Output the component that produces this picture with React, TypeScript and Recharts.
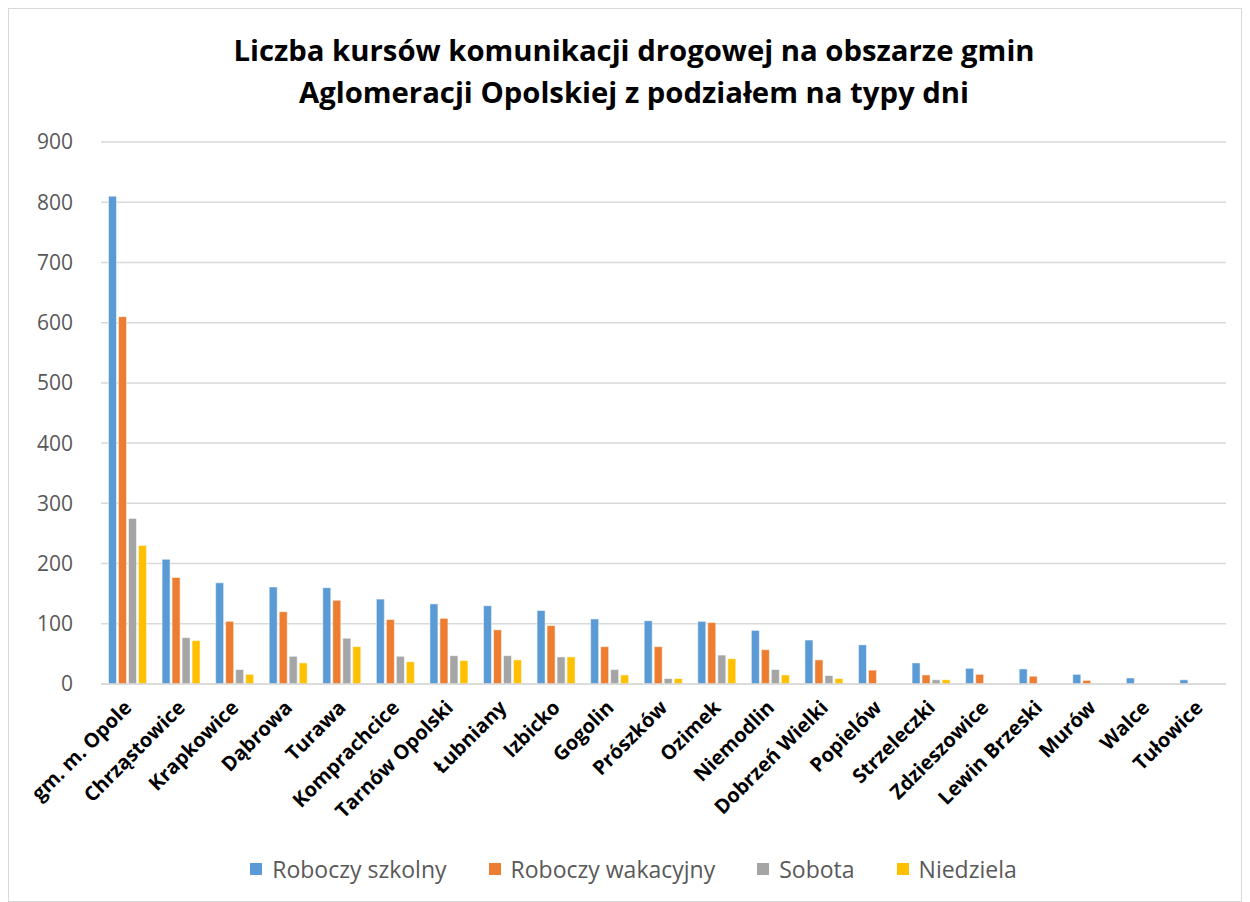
import React from 'react';
import { BarChart, Bar, XAxis, YAxis, CartesianGrid, Legend } from 'recharts';

const gminy = [
  'gm. m. Opole', 'Chrząstowice', 'Krapkowice', 'Dąbrowa', 'Turawa', 'Komprachcice',
  'Tarnów Opolski', 'Łubniany', 'Izbicko', 'Gogolin', 'Prószków', 'Ozimek', 'Niemodlin',
  'Dobrzeń Wielki', 'Popielów', 'Strzeleczki', 'Zdzieszowice', 'Lewin Brzeski', 'Murów',
  'Walce', 'Tułowice',
];
const roboczySzkolny = [810, 207, 168, 161, 160, 141, 133, 130, 122, 108, 105, 104, 89, 73, 65, 35, 26, 25, 16, 10, 7];
const roboczyWakacyjny = [610, 177, 104, 120, 139, 107, 109, 90, 97, 62, 62, 102, 57, 40, 23, 15, 16, 13, 6, 0, 0];
const sobota = [275, 77, 24, 46, 76, 46, 47, 47, 45, 24, 9, 48, 24, 14, 1, 7, 0, 0, 1, 0, 0];
const niedziela = [230, 72, 16, 35, 62, 37, 39, 40, 45, 15, 9, 42, 15, 9, 0, 7, 0, 0, 0, 0, 0];
const yTicks = [0, 100, 200, 300, 400, 500, 600, 700, 800, 900];

const series = [
  { key: 'szk', name: 'Roboczy szkolny', color: '#5B9BD5' },
  { key: 'wak', name: 'Roboczy wakacyjny', color: '#ED7D31' },
  { key: 'sob', name: 'Sobota', color: '#A5A5A5' },
  { key: 'nie', name: 'Niedziela', color: '#FFC000' },
];

const data = gminy.map((g, i) => ({
  gmina: g,
  szk: roboczySzkolny[i],
  wak: roboczyWakacyjny[i],
  sob: sobota[i],
  nie: niedziela[i],
}));

const CatTick = (props: any) => {
  const { x, y, payload } = props;
  return (
    <g transform={`translate(${x + 5},${y + 17})`}>
      <text
        transform="rotate(-45)"
        textAnchor="end"
        fill="#000"
        fontSize={20}
        fontWeight={700}
        fontFamily="'Open Sans', sans-serif"
      >
        {payload.value}
      </text>
    </g>
  );
};

const LegendBox = () => (
  <div style={{ display: 'flex', justifyContent: 'center', fontSize: 23, color: '#595959', marginTop: -6 }}>
    {series.map((s) => (
      <div key={s.key} style={{ display: 'flex', alignItems: 'center', margin: '0 21px' }}>
        <span style={{ width: 12, height: 12, background: s.color, marginRight: 10, display: 'inline-block' }} />
        <span>{s.name}</span>
      </div>
    ))}
  </div>
);

export default function App() {
  return (
    <div
      style={{
        position: 'relative',
        width: 1232,
        height: 892,
        border: '1px solid #d9d9d9',
        background: '#fff',
        fontFamily: "'Open Sans', sans-serif",
      }}
    >
      <div
        style={{
          position: 'absolute',
          top: 20,
          left: 0,
          width: 1250,
          textAlign: 'center',
          fontSize: 29.3,
          fontWeight: 700,
          lineHeight: '42px',
          color: '#000',
        }}
      >
        Liczba kursów komunikacji drogowej na obszarze gmin
        <br />
        Aglomeracji Opolskiej z podziałem na typy dni
      </div>
      <BarChart
        width={1232}
        height={892}
        data={data}
        margin={{ top: 133, right: 15, left: 32, bottom: 0 }}
        barGap={2}
        barCategoryGap="14%"
      >
        <CartesianGrid vertical={false} stroke="#d9d9d9" strokeWidth={1.5} />
        <XAxis
          dataKey="gmina"
          interval={0}
          height={175}
          tick={<CatTick />}
          tickLine={false}
          axisLine={{ stroke: '#d9d9d9', strokeWidth: 1.5 }}
        />
        <YAxis
          domain={[0, 900]}
          ticks={yTicks}
          width={60}
          axisLine={false}
          tickLine={false}
          tickMargin={22}
          tick={{ fill: '#595959', fontSize: 21 }}
        />
        <Legend verticalAlign="bottom" height={42} content={<LegendBox />} />
        {series.map((s) => (
          <Bar
            key={s.key}
            dataKey={s.key}
            name={s.name}
            fill={s.color}
            stroke="#fff"
            strokeWidth={0.5}
            isAnimationActive={false}
          />
        ))}
      </BarChart>
    </div>
  );
}
